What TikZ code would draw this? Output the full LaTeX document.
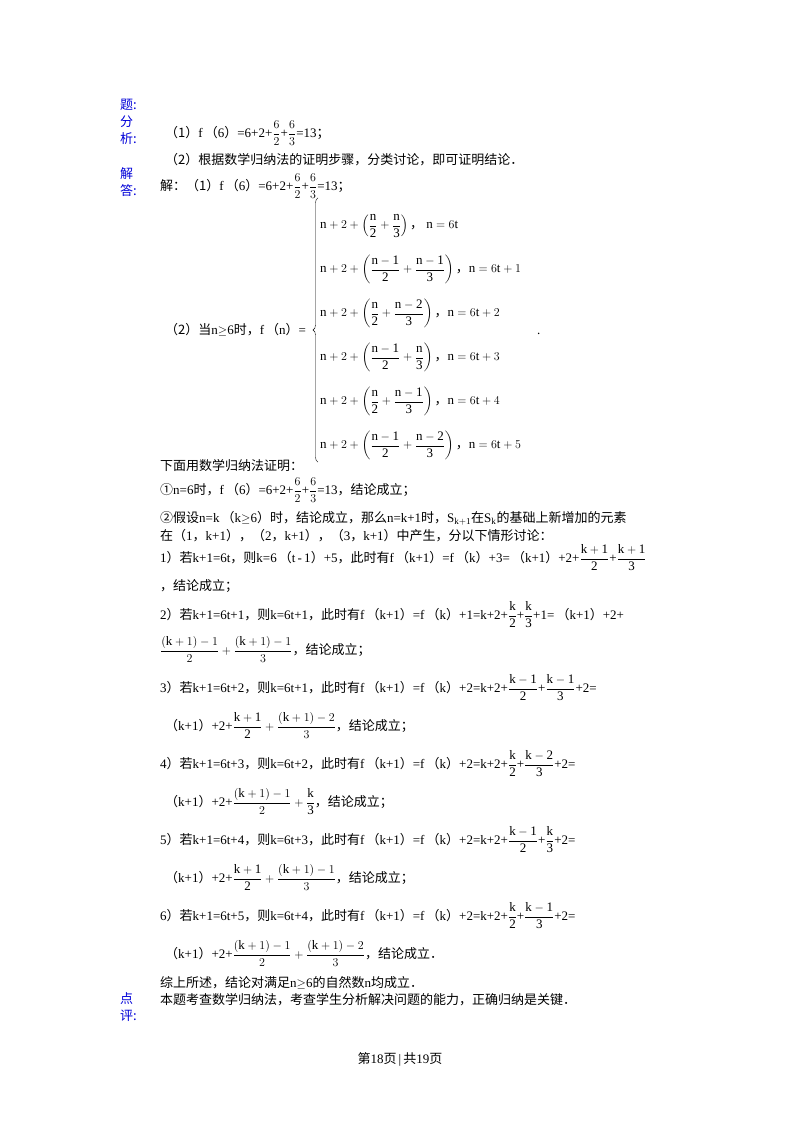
\documentclass[tikz,border=0pt]{standalone}
\usepackage{amsmath}
\usepackage{fontspec}
\usetikzlibrary{decorations.pathreplacing}
\setmainfont{Liberation Serif}
\newfontfamily\cjk{Noto Sans CJK SC}
\newcommand\z[1]{{\cjk #1}}
\newcommand\df[2]{\dfrac{\mathrm{#1}}{\mathrm{#2}}}
\begin{document}
\begin{tikzpicture}[x=1pt,y=-1pt,
 ln/.style={anchor=base west,inner sep=0pt,font=\fontsize{13}{16}\selectfont},
 lab/.style={anchor=base west,inner sep=0pt,align=left,text=blue!85!black,font=\fontsize{13}{16}\selectfont\cjk}]
\useasboundingbox[fill=white] (0,0) rectangle (800,1132);
\node[lab] (t1) at (120,109) {题:};
\node[lab] (t2) at (120,126) {分};
\node[lab] (t3) at (120,143) {析:};
\node[lab] (t4) at (120,178) {解};
\node[lab] (t5) at (120,195) {答:};
\node[lab] (t6) at (120,1003) {点};
\node[lab] (t7) at (120,1020) {评:};

\node[ln] (a1) at (165,137) {\z{（1）}f\,\z{（}6\z{）}=6+2+$\dfrac{6}{2}$+$\dfrac{6}{3}$=13\z{；}};
\node[ln] (a2) at (165,164) {\z{（2）根据数学归纳法的证明步骤，分类讨论，即可证明结论．}};
\node[ln] (b1) at (160,190) {\z{解：（1）}f\,\z{（}6\z{）}=6+2+$\dfrac{6}{2}$+$\dfrac{6}{3}$=13\z{；}};
\node[ln] (b2) at (165,334) {\z{（2）当}n$\geq$6\z{时，}f\,\z{（}n\z{）}=};
\node[ln,anchor=west,inner xsep=2pt] (cs) at (318,330) {\renewcommand\arraystretch{2.75}$\begin{array}{@{}l@{}}
\mathrm{n}+2+\left(\df{n}{2}+\df{n}{3}\right)\mbox{\z{，}}\ \mathrm{n}=6\mathrm{t}\\
\mathrm{n}+2+\left(\df{n-1}{2}+\df{n-1}{3}\right)\mbox{\z{，}}\mathrm{n}=6\mathrm{t}+1\\
\mathrm{n}+2+\left(\df{n}{2}+\df{n-2}{3}\right)\mbox{\z{，}}\mathrm{n}=6\mathrm{t}+2\\
\mathrm{n}+2+\left(\df{n-1}{2}+\df{n}{3}\right)\mbox{\z{，}}\mathrm{n}=6\mathrm{t}+3\\
\mathrm{n}+2+\left(\df{n}{2}+\df{n-1}{3}\right)\mbox{\z{，}}\mathrm{n}=6\mathrm{t}+4\\
\mathrm{n}+2+\left(\df{n-1}{2}+\df{n-2}{3}\right)\mbox{\z{，}}\mathrm{n}=6\mathrm{t}+5
\end{array}$};
\draw[decorate,decoration={brace,amplitude=5pt}] (cs.south west) -- (cs.north west);
\node[ln] (dot) at (537,334) {.};
\node[ln] (c1) at (160,470) {\z{下面用数学归纳法证明：}};
\node[ln] (c2) at (160,494) {\z{①}n=6\z{时，}f\,\z{（}6\z{）}=6+2+$\dfrac{6}{2}$+$\dfrac{6}{3}$=13\z{，结论成立；}};
\node[ln] (c3) at (160,522) {\z{②假设}n=k\,\z{（}k$\geq$6\z{）时，结论成立，那么}n=k+1\z{时，}S$_{\mathrm{k+1}}$\z{在}S$_{\mathrm{k}}$\z{的基础上新增加的元素}};
\node[ln] (c4) at (160,540) {\z{在（}1\z{，}k+1\z{），（}2\z{，}k+1\z{），（}3\z{，}k+1\z{）中产生，分以下情形讨论：}};
\node[ln] (d1) at (160,562) {1\z{）若}k+1=6t\z{，则}k=6\,\z{（}t\,-\,1\z{）}+5\z{，此时有}f\,\z{（}k+1\z{）}=f\,\z{（}k\z{）}+3=\,\z{（}k+1\z{）}+2+$\df{k+1}{2}$+$\df{k+1}{3}$};
\node[ln] (d2) at (160,590) {\z{，结论成立；}};
\node[ln] (e1) at (160,619) {2\z{）若}k+1=6t+1\z{，则}k=6t+1\z{，此时有}f\,\z{（}k+1\z{）}=f\,\z{（}k\z{）}+1=k+2+$\df{k}{2}$+$\df{k}{3}$+1=\,\z{（}k+1\z{）}+2+};
\node[ln] (e2) at (160,654) {$\dfrac{(\mathrm{k}+1)-1}{2}+\dfrac{(\mathrm{k}+1)-1}{3}$\z{，结论成立；}};
\node[ln] (f1) at (160,692) {3\z{）若}k+1=6t+2\z{，则}k=6t+1\z{，此时有}f\,\z{（}k+1\z{）}=f\,\z{（}k\z{）}+2=k+2+$\df{k-1}{2}$+$\df{k-1}{3}$+2=};
\node[ln] (f2) at (165,730) {\z{（}k+1\z{）}+2+$\df{k+1}{2}+\dfrac{(\mathrm{k}+1)-2}{3}$\z{，结论成立；}};
\node[ln] (g1) at (160,768) {4\z{）若}k+1=6t+3\z{，则}k=6t+2\z{，此时有}f\,\z{（}k+1\z{）}=f\,\z{（}k\z{）}+2=k+2+$\df{k}{2}$+$\df{k-2}{3}$+2=};
\node[ln] (g2) at (165,806) {\z{（}k+1\z{）}+2+$\dfrac{(\mathrm{k}+1)-1}{2}+\df{k}{3}$\z{，结论成立；}};
\node[ln] (h1) at (160,844) {5\z{）若}k+1=6t+4\z{，则}k=6t+3\z{，此时有}f\,\z{（}k+1\z{）}=f\,\z{（}k\z{）}+2=k+2+$\df{k-1}{2}$+$\df{k}{3}$+2=};
\node[ln] (h2) at (165,882) {\z{（}k+1\z{）}+2+$\df{k+1}{2}+\dfrac{(\mathrm{k}+1)-1}{3}$\z{，结论成立；}};
\node[ln] (i1) at (160,920) {6\z{）若}k+1=6t+5\z{，则}k=6t+4\z{，此时有}f\,\z{（}k+1\z{）}=f\,\z{（}k\z{）}+2=k+2+$\df{k}{2}$+$\df{k-1}{3}$+2=};
\node[ln] (i2) at (165,958) {\z{（}k+1\z{）}+2+$\dfrac{(\mathrm{k}+1)-1}{2}+\dfrac{(\mathrm{k}+1)-2}{3}$\z{，结论成立．}};
\node[ln] (j1) at (160,987) {\z{综上所述，结论对满足}n$\geq$6\z{的自然数}n\z{均成立．}};
\node[ln] (j2) at (160,1004) {\z{本题考查数学归纳法，考查学生分析解决问题的能力，正确归纳是关键．}};
\node[ln,anchor=base] (pg) at (400,1063) {\z{第}18\z{页}\,|\,\z{共}19\z{页}};
\end{tikzpicture}
\end{document}
